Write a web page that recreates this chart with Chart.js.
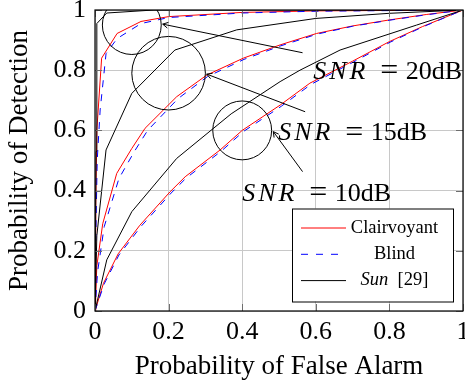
<!DOCTYPE html>
<html>
<head>
<meta charset="utf-8">
<script src="https://cdn.jsdelivr.net/npm/chart.js@4.4.0/dist/chart.umd.min.js"></script>
<style>
  html, body { margin: 0; padding: 0; background: #fff; }
  #roc { display: block; }
</style>
</head>
<body>
<canvas id="roc" width="465" height="383"></canvas>
<script>
// ROC curves as [Pfa, Pd] pairs, one list per detector and SNR
const clairvoyant20 = [[0, 0], [0.002, 0.35], [0.005, 0.6], [0.018, 0.84], [0.06, 0.922], [0.125, 0.962], [0.2, 0.978], [0.4, 0.992], [0.6, 0.997], [1, 1]];
const blind20 = [[0, 0], [0.003, 0.3], [0.006, 0.5], [0.014, 0.668], [0.03, 0.855], [0.06, 0.905], [0.125, 0.955], [0.2, 0.975], [0.4, 0.99], [0.6, 0.996], [1, 1]];
const sun20 = [[0, 0], [0.003, 0.53], [0.005, 0.955], [0.032, 0.99], [0.16, 1], [1, 1]];

const clairvoyant15 = [[0, 0], [0.005, 0.15], [0.021, 0.29], [0.059, 0.457], [0.1, 0.54], [0.136, 0.607], [0.222, 0.712], [0.304, 0.784], [0.403, 0.84], [0.503, 0.884], [0.602, 0.922], [0.7, 0.947], [0.8, 0.967], [0.9, 0.985], [1, 1]];
const blind15 = [[0, 0], [0.007, 0.13], [0.025, 0.28], [0.065, 0.44], [0.107, 0.53], [0.143, 0.6], [0.226, 0.706], [0.306, 0.779], [0.405, 0.836], [0.505, 0.881], [0.604, 0.92], [0.7, 0.946], [0.8, 0.966], [0.9, 0.984], [1, 1]];
const sun15 = [[0, 0], [0.005, 0.25], [0.03, 0.535], [0.1, 0.723], [0.217, 0.867], [0.385, 0.934], [0.6, 0.972], [0.8, 0.989], [1, 1]];

const clairvoyant10 = [[0, 0], [0.023, 0.092], [0.063, 0.19], [0.122, 0.285], [0.204, 0.396], [0.245, 0.446], [0.34, 0.535], [0.4, 0.6], [0.503, 0.684], [0.584, 0.757], [0.7, 0.83], [0.8, 0.895], [0.89, 0.945], [1, 1]];
const blind10 = [[0, 0], [0.025, 0.09], [0.065, 0.186], [0.125, 0.281], [0.207, 0.392], [0.248, 0.442], [0.343, 0.531], [0.403, 0.596], [0.506, 0.68], [0.587, 0.753], [0.702, 0.827], [0.802, 0.893], [0.891, 0.944], [1, 1]];
const sun10 = [[0, 0], [0.032, 0.17], [0.1, 0.33], [0.222, 0.507], [0.37, 0.655], [0.503, 0.762], [0.557, 0.8], [0.666, 0.867], [0.874, 0.95], [1, 1]];

const tickLabels = ['0', '0.2', '0.4', '0.6', '0.8', '1'];
const snrValues = ['20', '15', '10'];

// circle + arrow + label for each SNR group, in axis units
const callouts = [
  { circle: [0.1, 0.95], r: 0.08, from: [0.564, 0.858], to: [0.184, 0.953], label: [0.593, 0.771] },
  { circle: [0.2, 0.79], r: 0.1, from: [0.571, 0.662], to: [0.3035, 0.787], label: [0.498, 0.568] },
  { circle: [0.4, 0.6], r: 0.08, from: [0.564, 0.463], to: [0.4845, 0.596], label: [0.4, 0.366] }
];

const serif = '"Liberation Serif", "Times New Roman", serif';

function toPoints(pairs) {
  return pairs.map(p => ({ x: p[0], y: p[1] }));
}

function curve(pairs, color, dash, order) {
  return {
    data: toPoints(pairs),
    showLine: true,
    borderColor: color,
    borderWidth: 1,
    borderDash: dash,
    pointRadius: 0,
    tension: 0,
    fill: false,
    order: order
  };
}

const datasets = [
  curve(clairvoyant20, '#ff0000', [], 3),
  curve(clairvoyant15, '#ff0000', [], 3),
  curve(clairvoyant10, '#ff0000', [], 3),
  curve(blind20, '#0000ff', [7, 7], 2),
  curve(blind15, '#0000ff', [7, 7], 2),
  curve(blind10, '#0000ff', [7, 7], 2),
  curve(sun20, '#000000', [], 1),
  curve(sun15, '#000000', [], 1),
  curve(sun10, '#000000', [], 1)
];

function arrowHead(ctx, x0, y0, x1, y1) {
  const a = Math.atan2(y1 - y0, x1 - x0);
  const len = 6;
  ctx.beginPath();
  ctx.moveTo(x1 - len * Math.cos(a - 0.5), y1 - len * Math.sin(a - 0.5));
  ctx.lineTo(x1, y1);
  ctx.lineTo(x1 - len * Math.cos(a + 0.5), y1 - len * Math.sin(a + 0.5));
  ctx.stroke();
}

function drawSnrLabel(ctx, x, y, value) {
  ctx.fillStyle = '#000';
  ctx.textAlign = 'left';
  ctx.textBaseline = 'alphabetic';
  ctx.font = 'italic 26px ' + serif;
  ctx.letterSpacing = '3px';
  ctx.fillText('SNR', x, y);
  ctx.letterSpacing = '0px';
  ctx.font = '32px ' + serif;
  ctx.textAlign = 'center';
  ctx.fillText('=', x + 76, y + 1.5);
  ctx.font = '26px ' + serif;
  ctx.textAlign = 'left';
  ctx.fillText(value + 'dB', x + 92.5, y);
}

const annotations = {
  id: 'annotations',
  afterDatasetsDraw(chart) {
    const { ctx, chartArea: area, scales: { x, y } } = chart;
    const px = v => x.getPixelForValue(v);
    const py = v => y.getPixelForValue(v);

    ctx.save();
    ctx.strokeStyle = '#000';
    ctx.lineWidth = 1;

    // circles and arrows stay inside the axis box
    ctx.save();
    ctx.beginPath();
    ctx.rect(area.left, area.top, area.right - area.left, area.bottom - area.top);
    ctx.clip();
    callouts.forEach(c => {
      const r = px(c.r) - px(0);
      ctx.beginPath();
      ctx.arc(px(c.circle[0]), py(c.circle[1]), r, 0, Math.PI * 2);
      ctx.stroke();
      const x0 = px(c.from[0]), y0 = py(c.from[1]);
      const x1 = px(c.to[0]), y1 = py(c.to[1]);
      ctx.beginPath();
      ctx.moveTo(x0, y0);
      ctx.lineTo(x1, y1);
      ctx.stroke();
      arrowHead(ctx, x0, y0, x1, y1);
    });
    ctx.restore();

    callouts.forEach((c, i) => drawSnrLabel(ctx, px(c.label[0]), py(c.label[1]), snrValues[i]));

    // inner tick marks on all four sides
    ctx.strokeStyle = '#6e6e6e';
    const tl = 7;
    x.ticks.forEach(t => {
      const xx = Math.round(px(t.value)) + 0.5;
      ctx.beginPath();
      ctx.moveTo(xx, area.bottom); ctx.lineTo(xx, area.bottom - tl);
      ctx.moveTo(xx, area.top); ctx.lineTo(xx, area.top + tl);
      ctx.stroke();
    });
    y.ticks.forEach(t => {
      const yy = Math.round(py(t.value)) + 0.5;
      ctx.beginPath();
      ctx.moveTo(area.left, yy); ctx.lineTo(area.left + tl, yy);
      ctx.moveTo(area.right, yy); ctx.lineTo(area.right - tl, yy);
      ctx.stroke();
    });

    // axis frame
    ctx.strokeStyle = '#000';
    ctx.lineWidth = 1.2;
    ctx.strokeRect(area.left, area.top, area.right - area.left, area.bottom - area.top);

    // legend box in the lower right corner
    const bw = 161, bh = 93;
    const bx = area.right - 10 - bw, by = area.bottom - 9.5 - bh;
    ctx.fillStyle = '#fff';
    ctx.fillRect(bx, by, bw, bh);
    ctx.lineWidth = 1;
    ctx.strokeRect(bx + 0.5, by + 0.5, bw, bh);

    const rows = [
      { color: '#ff0000', dash: [], parts: [['Clairvoyant', '']] },
      { color: '#0000ff', dash: [7, 8], parts: [['Blind', '']] },
      { color: '#000000', dash: [], parts: [['Sun', 'italic '], ['  [29]', '']] }
    ];
    const textCx = bx + 102.5;
    rows.forEach((row, i) => {
      const ry = by + 19.5 + i * 26.3;
      ctx.strokeStyle = row.color;
      ctx.setLineDash(row.dash);
      ctx.beginPath();
      ctx.moveTo(bx + 9, ry);
      ctx.lineTo(bx + 54, ry);
      ctx.stroke();
      ctx.setLineDash([]);

      ctx.fillStyle = '#000';
      ctx.textBaseline = 'middle';
      ctx.textAlign = 'left';
      let total = 0;
      row.parts.forEach(p => {
        ctx.font = p[1] + '18.5px ' + serif;
        total += ctx.measureText(p[0]).width;
      });
      let tx = textCx - total / 2;
      row.parts.forEach(p => {
        ctx.font = p[1] + '18.5px ' + serif;
        ctx.fillText(p[0], tx, ry);
        tx += ctx.measureText(p[0]).width;
      });
    });

    ctx.restore();
  }
};

new Chart(document.getElementById('roc'), {
  type: 'scatter',
  data: { datasets: datasets },
  options: {
    responsive: false,
    animation: false,
    devicePixelRatio: 1,
    layout: { padding: { top: 10, right: 2, left: 0, bottom: 0 } },
    plugins: {
      legend: { display: false },
      tooltip: { enabled: false }
    },
    scales: {
      x: {
        type: 'linear',
        min: 0,
        max: 1,
        afterFit: s => { s.height = 72; s.paddingLeft = 0; s.paddingRight = 0; },
        ticks: {
          stepSize: 0.2,
          padding: 6,
          color: '#000',
          font: { family: serif, size: 26 },
          maxRotation: 0,
          callback: (v, i) => tickLabels[i]
        },
        grid: { color: '#c8c8c8', drawTicks: false },
        border: { display: false },
        title: {
          display: true,
          text: 'Probability of False Alarm',
          color: '#000',
          font: { family: serif, size: 27 },
          padding: { top: 0, bottom: 0 }
        }
      },
      y: {
        type: 'linear',
        min: 0,
        max: 1,
        afterFit: s => { s.width = 95; s.paddingTop = 0; s.paddingBottom = 0; },
        ticks: {
          stepSize: 0.2,
          padding: 9,
          color: '#000',
          font: { family: serif, size: 26 },
          callback: (v, i) => tickLabels[i]
        },
        grid: { color: '#c8c8c8', drawTicks: false },
        border: { display: false },
        title: {
          display: true,
          text: 'Probability of Detection',
          color: '#000',
          font: { family: serif, size: 27 },
          padding: { top: 4, bottom: 0 }
        }
      }
    }
  },
  plugins: [annotations]
});
</script>
</body>
</html>
